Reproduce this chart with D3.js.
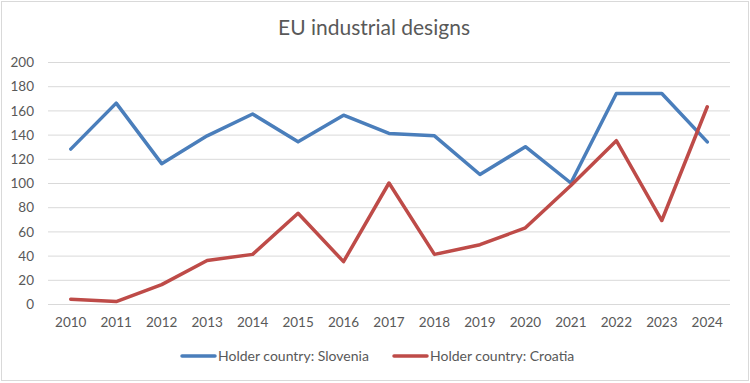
<!DOCTYPE html>
<html>
<head>
<meta charset="utf-8">
<script src="https://cdn.jsdelivr.net/npm/d3@7"></script>
<style>
  body { margin: 0; background: #fff; }
  svg text { font-family: "Lato", "Open Sans", sans-serif; fill: #595959; }
</style>
</head>
<body>
<div id="chart"></div>
<script>
// DATA
const years = [2010, 2011, 2012, 2013, 2014, 2015, 2016, 2017, 2018, 2019, 2020, 2021, 2022, 2023, 2024];
const slovenia = [128, 166, 116, 139, 157, 134, 156, 141, 139, 107, 130, 100, 174, 174, 134];
const croatia = [4, 2, 16, 36, 41, 75, 35, 100, 41, 49, 63, 98, 135, 69, 163];
const yTicks = [0, 20, 40, 60, 80, 100, 120, 140, 160, 180, 200];
const seriesNames = ["Holder country: Slovenia", "Holder country: Croatia"];
const seriesColors = ["#4a7ebb", "#be4b48"];

function render() {
    const width  = 750;
    const height = 383;
    const margin = { top: 62, right: 20, bottom: 79, left: 48 };

    const svg = d3.select('#chart').append('svg')
        .attr('width', width)
        .attr('height', height);

    // outer frame
    svg.append('rect')
        .attr('x', 1.5).attr('y', 1.5)
        .attr('width', width - 3).attr('height', height - 4)
        .attr('fill', '#fff')
        .attr('stroke', '#d9d9d9');

    svg.append('text')
        .attr('x', 374)
        .attr('y', 35)
        .attr('text-anchor', 'middle')
        .style('font-size', '21px')
        .text('EU industrial designs');

    const x = d3.scaleBand()
        .domain(years)
        .range([margin.left, width - margin.right]);

    const y = d3.scaleLinear()
        .domain([0, 200])
        .range([height - margin.bottom, margin.top]);

    // gridlines
    svg.append('g')
        .selectAll('line')
        .data(yTicks)
        .join('line')
            .attr('x1', margin.left)
            .attr('x2', width - margin.right)
            .attr('y1', d => y(d) + 0.5)
            .attr('y2', d => y(d) + 0.5)
            .attr('stroke', '#d9d9d9')
            .attr('stroke-width', 1);

    // y axis labels
    const yAxis = svg.append('g')
        .attr('transform', `translate(${margin.left - 14},0)`)
        .call(d3.axisLeft(y).tickValues(yTicks).tickSize(0).tickPadding(0));
    yAxis.select('.domain').remove();
    yAxis.selectAll('text')
        .style('font-size', '13.5px')
        .style('font-family', null)
        .attr('dy', '0.35em')
        .attr('fill', null);

    // x axis labels
    const xAxis = svg.append('g')
        .attr('transform', `translate(0,${height - margin.bottom + 13})`)
        .call(d3.axisBottom(x).tickSize(0).tickPadding(0));
    xAxis.select('.domain').remove();
    xAxis.selectAll('text')
        .style('font-size', '13.5px')
        .style('font-family', null)
        .attr('fill', null);

    const line = d3.line()
        .x((d, i) => x(years[i]) + x.bandwidth() / 2)
        .y(d => y(d));

    [slovenia, croatia].forEach((s, k) => {
        svg.append('path')
            .datum(s)
            .attr('fill', 'none')
            .attr('stroke', seriesColors[k])
            .attr('stroke-width', 3.5)
            .attr('stroke-linejoin', 'round')
            .attr('stroke-linecap', 'round')
            .attr('d', line);
    });

    // legend
    const legendX = [182, 394];
    const legend = svg.append('g')
        .selectAll('g')
        .data(seriesNames)
        .join('g')
            .attr('transform', (d, i) => `translate(${legendX[i]},356)`);
    legend.append('line')
        .attr('x1', 0).attr('x2', 33)
        .attr('stroke', (d, i) => seriesColors[i])
        .attr('stroke-width', 3.5)
        .attr('stroke-linecap', 'round');
    legend.append('text')
        .attr('x', 36)
        .attr('dy', '0.35em')
        .style('font-size', '14px')
        .text(d => d);
}

window.onload = render;
</script>
</body>
</html>
